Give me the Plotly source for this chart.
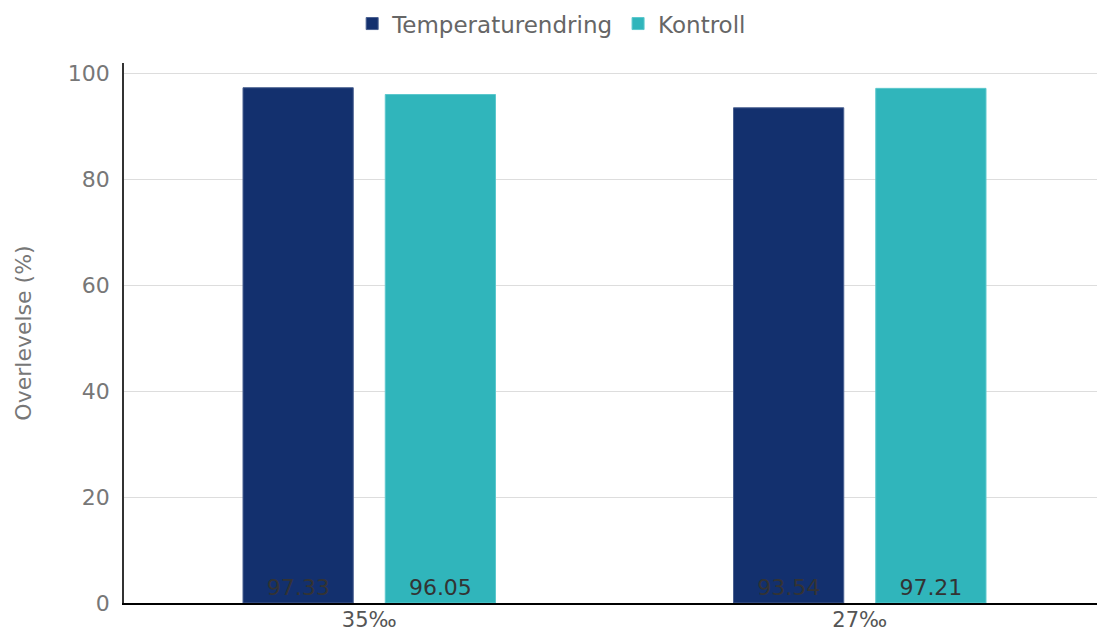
import plotly.graph_objects as go

categories = ["35‰", "27‰"]
temperaturendring = [97.33, 93.54]
kontroll = [96.05, 97.21]

NAVY = "#13306e"
TEAL = "#30b5bb"
FONT = "DejaVu Sans, sans-serif"

fig = go.Figure()
fig.add_trace(
    go.Bar(
        x=categories,
        y=temperaturendring,
        name="Temperaturendring",
        marker={"color": NAVY, "line": {"color": "#4a6090", "width": 1}},
        text=[f"{v:.2f}" for v in temperaturendring],
        textposition="inside",
        insidetextanchor="start",
        textangle=0,
        textfont={"color": "#333333", "size": 22, "family": FONT},
    )
)
fig.add_trace(
    go.Bar(
        x=categories,
        y=kontroll,
        name="Kontroll",
        marker={"color": TEAL, "line": {"color": "#5cc8cd", "width": 1}},
        text=[f"{v:.2f}" for v in kontroll],
        textposition="inside",
        insidetextanchor="start",
        textangle=0,
        textfont={"color": "#333333", "size": 22, "family": FONT},
    )
)

# page body has an 8px margin, so margins are shifted by 8px
fig.update_layout(
    width=1105,
    height=624,
    barmode="group",
    bargap=0.42,
    bargroupgap=0.225,
    plot_bgcolor="white",
    paper_bgcolor="white",
    margin={"l": 116, "r": 8, "t": 55, "b": 29},
    font={"family": FONT, "size": 22, "color": "#666666"},
    legend={
        "orientation": "h",
        "xref": "container",
        "yref": "container",
        "x": 0.492,
        "xanchor": "center",
        "y": 0.975,
        "yanchor": "middle",
        "font": {"size": 23, "color": "#666666"},
        "itemwidth": 30,
        "tracegroupgap": 0,
    },
    uniformtext={"mode": "show", "minsize": 22},
)
fig.update_xaxes(
    automargin=False,
    showline=True,
    linecolor="#000000",
    linewidth=1.5,
    showgrid=False,
    ticks="",
    ticklabelstandoff=-3,
    tickfont={"size": 21, "color": "#555555"},
)
fig.update_yaxes(
    automargin=False,
    range=[0, 102],
    tickvals=[0, 20, 40, 60, 80, 100],
    showline=True,
    linecolor="#333333",
    linewidth=1.5,
    gridcolor="#dddddd",
    gridwidth=1,
    zeroline=False,
    ticks="",
    ticklabelstandoff=8,
    title={"text": "Overlevelse (%)", "font": {"size": 22, "color": "#777777"}, "standoff": 30},
    tickfont={"size": 22, "color": "#777777"},
)

fig.write_html("out.html")
